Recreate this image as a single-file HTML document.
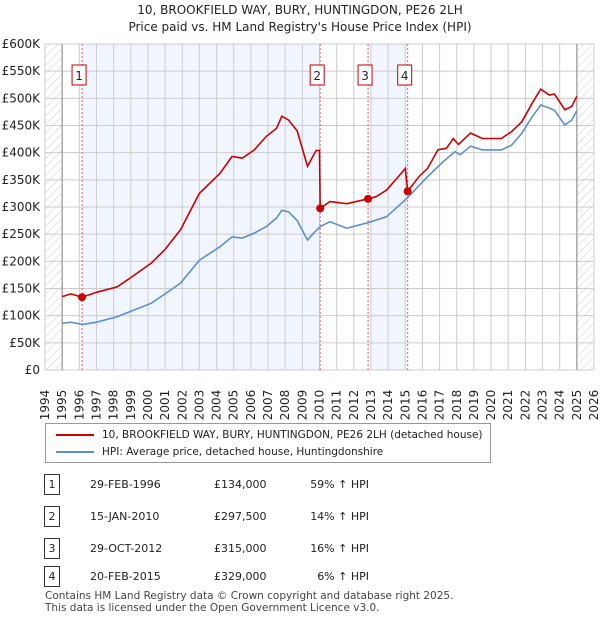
<!DOCTYPE html>
<html><head><meta charset="utf-8"><style>
body{margin:0;background:#fff;font-family:"DejaVu Sans","Liberation Sans",sans-serif;color:#222}
#w{position:relative;width:600px;height:620px}
.t{position:absolute;font-size:12px}
</style></head><body><div id="w">
<div class="t" style="left:0;width:600px;top:2px;text-align:center;font-size:12px;line-height:17px">10, BROOKFIELD WAY, BURY, HUNTINGDON, PE26 2LH<br>Price paid vs. HM Land Registry's House Price Index (HPI)</div>
<svg id="c" width="600" height="420" style="position:absolute;left:0;top:0;font-family:'DejaVu Sans',sans-serif"></svg>
<div style="position:absolute;left:45px;top:423px;width:444px;height:38px;border:1px solid #999;font-size:10.5px">
<div style="position:absolute;left:10px;top:5px;white-space:nowrap"><span style="display:inline-block;width:38px;border-top:2px solid #cc0000;vertical-align:middle;margin-right:8px"></span>10, BROOKFIELD WAY, BURY, HUNTINGDON, PE26 2LH (detached house)</div>
<div style="position:absolute;left:10px;top:22px;white-space:nowrap"><span style="display:inline-block;width:38px;border-top:2px solid #5b8fd0;vertical-align:middle;margin-right:8px"></span>HPI: Average price, detached house, Huntingdonshire</div>
</div>
<div id="tbl"></div>
<div class="t" style="left:45px;top:590px;font-size:10.5px;line-height:12px;color:#444">Contains HM Land Registry data © Crown copyright and database right 2025.<br>This data is licensed under the Open Government Licence v3.0.</div>
</div>
<script>
const hpiYears=[1995,1995.5,1996.2,1997,1998.2,1999,2000.2,2001,2001.9,2003,2004.2,2004.9,2005.5,2006.2,2006.9,2007.5,2007.8,2008.2,2008.7,2009.3,2009.6,2010.04,2010.6,2011.6,2012.8,2013.9,2015.1,2016.3,2017.2,2017.9,2018.2,2018.8,2019.5,2020.6,2021.2,2021.8,2022.4,2022.9,2023.4,2023.7,2024.3,2024.7,2025];
const hpiValues=[86,88,84,88,98,108,123,140,160,202,227,245,243,252,264,280,294,291,275,239,250,264,273,261,271,282,316,356,383,402,396,412,405,405,414,436,466,488,482,478,451,460,477];
const ppYears=[1995,1995.5,1996.16,1997,1998.2,1999,2000.2,2001,2001.9,2003,2004.2,2004.9,2005.5,2006.2,2006.9,2007.5,2007.8,2008.2,2008.7,2009.3,2009.8,2010.0,2010.04,2010.6,2011.6,2012.83,2013.3,2013.9,2014.6,2015.0,2015.14,2015.8,2016.3,2016.9,2017.4,2017.8,2018.1,2018.8,2019.5,2020.6,2021.2,2021.8,2022.4,2022.9,2023.4,2023.7,2024.3,2024.7,2025];
const ppValues=[135,140,134,143,153,170,197,222,258,325,362,393,390,405,430,445,467,460,440,375,404,404,297.5,310,306,315,319,331,356,371,329,356,371,405,408,426,415,436,426,426,439,457,491,517,506,508,479,485,504];
const saleYears=[1996.16,2010.04,2012.83,2015.14];
const saleValues=[134,297.5,315,329];
const saleLabels=["1","2","3","4"];
const saleDates=["29-FEB-1996","15-JAN-2010","29-OCT-2012","20-FEB-2015"];
const salePrices=["£134,000","£297,500","£315,000","£329,000"];
const saleHpi=["59% ↑ HPI","14% ↑ HPI","16% ↑ HPI","6% ↑ HPI"];
const yTicks=[0,50,100,150,200,250,300,350,400,450,500,550,600];
const xTicks=[];for(let y=1994;y<=2026;y++)xTicks.push(y);
const X=y=>45+(y-1994)*(549/32), Y=v=>370-v*(326/600);
const NS="http://www.w3.org/2000/svg",svg=document.getElementById('c');
function mk(t,a,p){const e=document.createElementNS(NS,t);for(const k in a)e.setAttribute(k,a[k]);(p||svg).appendChild(e);return e;}
const defs=mk('defs',{});
const pat=mk('pattern',{id:'h',width:6,height:6,patternUnits:'userSpaceOnUse',patternTransform:'rotate(45)'},defs);
mk('line',{x1:0,y1:0,x2:0,y2:6,stroke:'#ccc','stroke-width':1},pat);
let r=mk('rect',{x:X(1994),y:Y(600),width:X(1995)-X(1994),height:Y(0)-Y(600),fill:'url(#h)'});

r=mk('rect',{x:X(2025),y:Y(600),width:X(2026)-X(2025),height:Y(0)-Y(600),fill:'url(#h)'});

r=mk('rect',{x:X(saleYears[0]),y:Y(600),width:X(saleYears[1])-X(saleYears[0]),height:Y(0)-Y(600),fill:'#eef3fc',opacity:0.8});

r=mk('rect',{x:X(saleYears[2]),y:Y(600),width:X(saleYears[3])-X(saleYears[2]),height:Y(0)-Y(600),fill:'#eef3fc',opacity:0.8});

yTicks.forEach(v=>{mk('line',{x1:X(1994),x2:X(2026),y1:Y(v),y2:Y(v),stroke:'#ccc'});
const t=mk('text',{x:40,y:Y(v)+4,'text-anchor':'end','font-size':12,fill:'#222'});t.textContent=v==0?'£0':'£'+v+'K';
});
xTicks.forEach(y=>{mk('line',{x1:X(y),x2:X(y),y1:Y(600),y2:Y(0),stroke:'#ccc'});
const t=mk('text',{transform:`translate(${X(y)+4},${405}) rotate(-90)`,'font-size':12,fill:'#222','text-anchor':'middle'});t.textContent=y;
});
mk('line',{x1:X(1995),x2:X(1995),y1:Y(600),y2:Y(0),stroke:'#888'});
mk('line',{x1:X(2025),x2:X(2025),y1:Y(600),y2:Y(0),stroke:'#888'});
saleYears.forEach((y,i)=>{mk('line',{x1:X(y),x2:X(y),y1:Y(600),y2:Y(0),stroke:'#e06060','stroke-dasharray':'2,2'});
const g=mk('g',{});
mk('rect',{x:X(y)-10,y:65,width:14,height:20,fill:'#fff',stroke:'#cc0000'},g);
const t=mk('text',{x:X(y)-3,y:80,'font-size':12,'text-anchor':'middle',fill:'#222'},g);t.textContent=saleLabels[i];});
function line(xs,vs,col,name){const p=mk('path',{d:xs.map((x,i)=>(i?'L':'M')+X(x).toFixed(1)+','+Y(vs[i]).toFixed(1)).join(''),fill:'none',stroke:col,'stroke-width':1.6});
}
line(hpiYears,hpiValues,'#5b8fd0','hpi-line');
line(ppYears,ppValues,'#cc0000','price-paid-line');
saleYears.forEach((y,i)=>{const c=mk('circle',{cx:X(y),cy:Y(saleValues[i]),r:4,fill:'#cc0000'});
});
const tb=document.getElementById('tbl');const rowsY=[474,506,538,566];
saleLabels.forEach((l,i)=>{const d=document.createElement('div');


d.style.cssText=`position:absolute;left:0;top:${rowsY[i]}px;width:600px;font-size:11px`;
d.innerHTML=`<span style="position:absolute;left:44px;top:0;width:14px;height:19px;border:1px solid #333;text-align:center;line-height:19px">${l}</span><span style="position:absolute;left:90px;top:4px">${saleDates[i]}</span><span style="position:absolute;left:214px;top:4px">${salePrices[i]}</span><span style="position:absolute;right:231px;top:4px">${saleHpi[i]}</span>`;
tb.appendChild(d);});
</script></body></html>
